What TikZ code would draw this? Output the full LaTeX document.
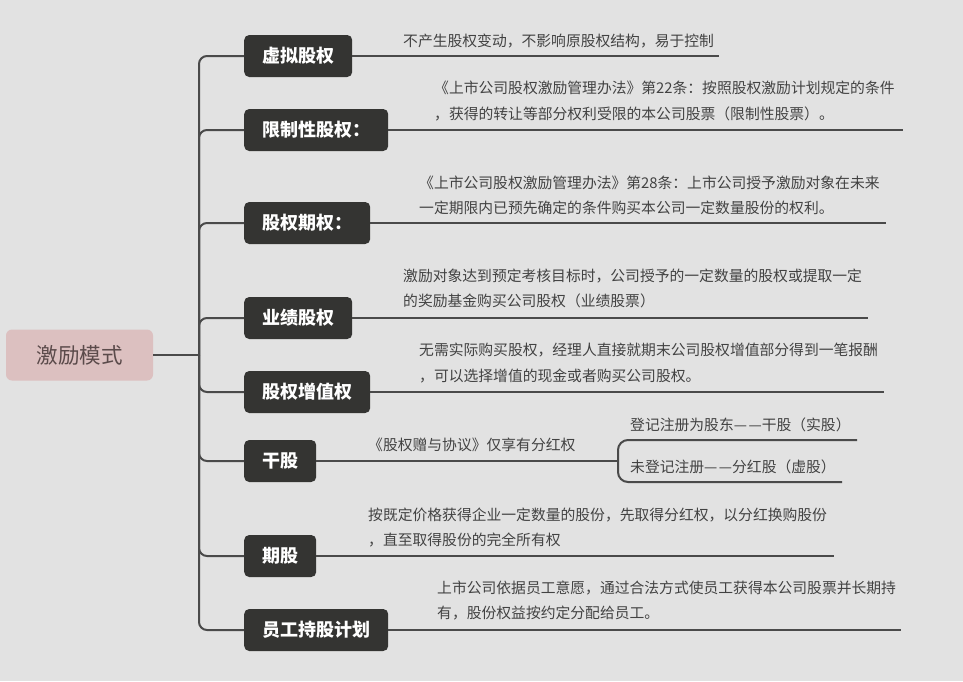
\documentclass[tikz,border=0pt]{standalone}
\usepackage{fontspec}
\setmainfont{Noto Sans CJK SC}
\definecolor{bgc}{HTML}{E2E2E2}
\definecolor{boxc}{HTML}{343432}
\definecolor{linec}{HTML}{4A4A4A}
\definecolor{txtc}{HTML}{424242}
\definecolor{rootc}{HTML}{DCC0C0}
\definecolor{roottxt}{HTML}{5B4B4B}
\begin{document}
\begin{tikzpicture}[x=1pt,y=-1pt,
  conn/.style={draw=linec, line width=2pt},
  branch/.style={conn, rounded corners=8pt},
  rootbox/.style={fill=rootc, text=roottxt, rounded corners=6pt, minimum width=147pt, minimum height=51pt, inner sep=0pt, font=\fontsize{21.5}{24}\selectfont},
  cat/.style={fill=boxc, text=white, rounded corners=5pt, minimum height=42pt, inner xsep=18pt, inner ysep=0pt, font=\fontsize{18}{20}\selectfont\bfseries, anchor=west},
  desc/.style={text=txtc, font=\fontsize{14.8}{25.5}\selectfont, align=left, anchor=west, inner sep=0pt},
]
\fill[bgc] (0,0) rectangle (963,681);
\useasboundingbox (0,0) rectangle (963,681);

% root
\node[rootbox] (root) at (79.5,355) {激励模式};
\coordinate (J) at (199,355);
\draw[conn] (root.east) -- (J);

% categories
\node[cat] (a) at (244,56) {虚拟股权};
\node[cat] (b) at (244,130) {限制性股权：};
\node[cat] (c) at (244,223) {股权期权：};
\node[cat] (d) at (244,318) {业绩股权};
\node[cat] (e) at (244,392) {股权增值权};
\node[cat] (f) at (244,461) {干股};
\node[cat] (g) at (244,556) {期股};
\node[cat] (h) at (244,630) {员工持股计划};

\foreach \n in {a,b,c,d,e,f,g,h} {
  \draw[branch] (J) |- (\n.west);
}

% line ends
\coordinate (aend) at (719,56);
\coordinate (bend) at (903,130);
\coordinate (cend) at (886,223);
\coordinate (dend) at (868,318);
\coordinate (eend) at (884,392);
\coordinate (fj) at (618,461);
\coordinate (gend) at (834,556);
\coordinate (hend) at (901,630);
\coordinate (f1end) at (857,440);
\coordinate (f2end) at (842,482);

\draw[conn] (a.east) -- (aend);
\draw[conn] (b.east) -- (bend);
\draw[conn] (c.east) -- (cend);
\draw[conn] (d.east) -- (dend);
\draw[conn] (e.east) -- (eend);
\draw[conn] (f.east) -- (fj);
\draw[conn] (g.east) -- (gend);
\draw[conn] (h.east) -- (hend);
\draw[branch, rounded corners=10pt] (fj) |- (f1end);
\draw[branch, rounded corners=10pt] (fj) |- (f2end);

% descriptions
\node[desc] (ta) at (403,41) {不产生股权变动，不影响原股权结构，易于控制};
\node[desc] (tb) at (434,101) {《上市公司股权激励管理办法》第22条：按照股权激励计划规定的条件\\，获得的转让等部分权利受限的本公司股票（限制性股票）。};
\node[desc] (tc) at (419,195.5) {《上市公司股权激励管理办法》第28条：上市公司授予激励对象在未来\\一定期限内已预先确定的条件购买本公司一定数量股份的权利。};
\node[desc] (td) at (403,288.5) {激励对象达到预定考核目标时，公司授予的一定数量的股权或提取一定\\的奖励基金购买公司股权（业绩股票）};
\node[desc] (te) at (419,363) {无需实际购买股权，经理人直接就期末公司股权增值部分得到一笔报酬\\，可以选择增值的现金或者购买公司股权。};
\node[desc] (tf) at (368,445) {《股权赠与协议》仅享有分红权};
\node[desc] (tf1) at (630,425) {登记注册为股东—\kern1.5pt—干股（实股）};
\node[desc] (tf2) at (630,467) {未登记注册—\kern1.5pt—分红股（虚股）};
\node[desc] (tg) at (368,527.5) {按既定价格获得企业一定数量的股份，先取得分红权，以分红换购股份\\，直至取得股份的完全所有权};
\node[desc] (th) at (437,600.5) {上市公司依据员工意愿，通过合法方式使员工获得本公司股票并长期持\\有，股份权益按约定分配给员工。};
\end{tikzpicture}
\end{document}
